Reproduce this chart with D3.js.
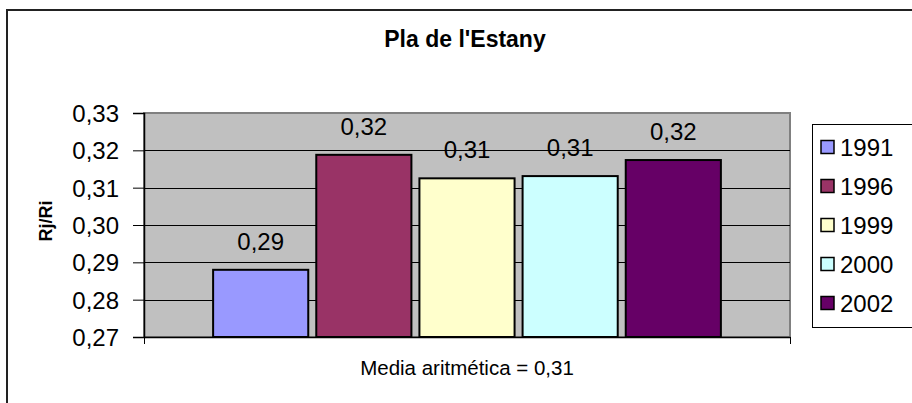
<!DOCTYPE html>
<html>
<head>
<meta charset="utf-8">
<script src="https://cdn.jsdelivr.net/npm/d3@7"></script>
<style>
  html, body { margin: 0; padding: 0; background: #fff; }
  svg { display: block; font-family: "Liberation Sans", Arial, sans-serif; }
</style>
</head>
<body>
<svg id="chart" width="912" height="403"></svg>
<script>
// ---- data ----
const title = "Pla de l'Estany";
const yLabel = "Rj/Ri";
const years = ["1991", "1996", "1999", "2000", "2002"];
const values = [0.2880, 0.3188, 0.3125, 0.3131, 0.3174];
const colors = ["#9999FF", "#993366", "#FFFFCC", "#CCFFFF", "#660066"];
const yTicks = [0.27, 0.28, 0.29, 0.30, 0.31, 0.32, 0.33];
const footnote = "Media aritmética = 0,31";

// ---- layout ----
const svg = d3.select("#chart");
const plot = { left: 144, top: 113, width: 646, height: 224 };
const fmt = v => d3.format(".2f")(v).replace(".", ",");

// outer frame
svg.append("rect")
  .attr("x", 7).attr("y", 10).attr("width", 940).attr("height", 420)
  .attr("fill", "#fff").attr("stroke", "#222").attr("stroke-width", 2);

// title
svg.append("text")
  .attr("x", 465).attr("y", 47)
  .attr("text-anchor", "middle")
  .attr("font-weight", "bold").attr("font-size", 23)
  .text(title);

const y = d3.scaleLinear().domain([0.27, 0.33]).range([plot.height, 0]);
const x = d3.scaleBand().domain(years).range([0, plot.width])
  .paddingInner(0.0777).paddingOuter(0.67);

const g = svg.append("g").attr("transform", `translate(${plot.left},${plot.top})`);

// plot background
g.append("rect")
  .attr("x", 0).attr("y", 0).attr("width", plot.width).attr("height", plot.height)
  .attr("fill", "#C0C0C0").attr("stroke", "#808080").attr("stroke-width", 2);

// gridlines
g.append("g").selectAll("line")
  .data(yTicks.filter(t => t > 0.27 && t < 0.33))
  .join("line")
  .attr("x1", 0).attr("x2", plot.width)
  .attr("y1", d => Math.round(y(d)) + 0.5).attr("y2", d => Math.round(y(d)) + 0.5)
  .attr("stroke", "#000").attr("stroke-width", 1);

// bars
g.append("g").selectAll("rect")
  .data(years)
  .join("rect")
  .attr("x", d => x(d))
  .attr("y", (d, i) => y(values[i]))
  .attr("width", x.bandwidth())
  .attr("height", (d, i) => plot.height - y(values[i]))
  .attr("fill", (d, i) => colors[i])
  .attr("stroke", "#000").attr("stroke-width", 2);

// data labels
g.append("g").selectAll("text")
  .data(years)
  .join("text")
  .attr("x", d => x(d) + x.bandwidth() / 2)
  .attr("y", (d, i) => y(values[i]) - 20)
  .attr("text-anchor", "middle")
  .attr("font-size", 24)
  .text((d, i) => fmt(values[i]));

// y axis
const yAxis = g.append("g")
  .call(d3.axisLeft(y).tickValues(yTicks).tickFormat(fmt).tickSize(11).tickPadding(14));
yAxis.select(".domain").attr("stroke", "#000").attr("stroke-width", 1.5);
yAxis.selectAll(".tick line").attr("stroke", "#000");
yAxis.selectAll(".tick text")
  .attr("font-size", 24).attr("fill", "#000")
  .attr("font-family", "'Liberation Sans', Arial, sans-serif")
  .attr("dy", "0.36em");

// x axis (single category boundaries)
const xEdge = d3.scaleLinear().domain([0, 1]).range([0, plot.width]);
const xAxis = g.append("g").attr("transform", `translate(0,${plot.height})`)
  .call(d3.axisBottom(xEdge).tickValues([0, 1]).tickFormat("").tickSize(7).tickSizeOuter(0));
xAxis.select(".domain").attr("stroke", "#000").attr("stroke-width", 1.5);
xAxis.selectAll(".tick line").attr("stroke", "#000");

// y label
svg.append("text")
  .attr("transform", "translate(52,221) rotate(-90)")
  .attr("text-anchor", "middle")
  .attr("font-weight", "bold").attr("font-size", 18)
  .text(yLabel);

// footnote
svg.append("text")
  .attr("x", 467).attr("y", 375)
  .attr("text-anchor", "middle")
  .attr("font-size", 20.5)
  .text(footnote);

// legend
const leg = svg.append("g").attr("transform", "translate(812,124)");
leg.append("rect")
  .attr("x", 0.5).attr("y", 0.5).attr("width", 110).attr("height", 203)
  .attr("fill", "#fff").attr("stroke", "#000").attr("stroke-width", 1);
const rows = leg.selectAll("g.row").data(years).join("g")
  .attr("class", "row")
  .attr("transform", (d, i) => `translate(0,${23 + i * 39})`);
rows.append("rect")
  .attr("x", 9).attr("y", -6.5).attr("width", 13).attr("height", 13)
  .attr("fill", (d, i) => colors[i]).attr("stroke", "#000").attr("stroke-width", 1.5);
rows.append("text")
  .attr("x", 28).attr("y", 0).attr("dy", "0.36em")
  .attr("font-size", 24)
  .text(d => d);
</script>
</body>
</html>
